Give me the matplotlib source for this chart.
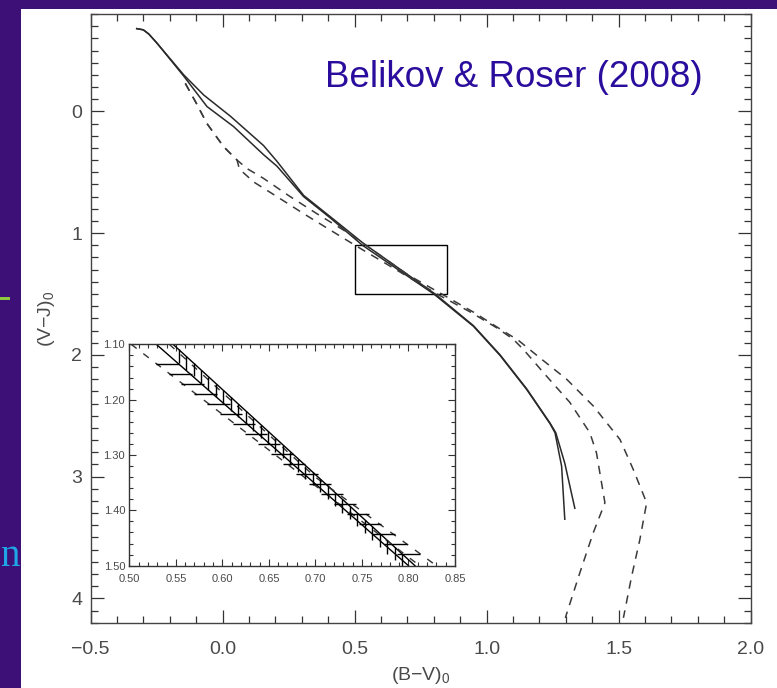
import matplotlib
matplotlib.use("Agg")
import matplotlib.pyplot as plt
from matplotlib.patches import Rectangle
from matplotlib.ticker import MultipleLocator, FuncFormatter

plt.rcParams["font.family"] = ["Liberation Sans", "DejaVu Sans"]
plt.rcParams["mathtext.fontset"] = "custom"
plt.rcParams["mathtext.rm"] = "Liberation Sans"
plt.rcParams["mathtext.it"] = "Liberation Sans"

# ── main panel: (B-V)0 vs (V-J)0 sequences ─────────────────────────────
solid_a_bv = [-0.325, -0.300, -0.279, -0.248, -0.147, -0.071, 0.030, 0.155, 0.206,
              0.307, 0.408, 0.534, 0.805, 0.950, 1.051, 1.152, 1.240, 1.262, 1.296, 1.334]
solid_a_vj = [-0.68, -0.67, -0.635, -0.56, -0.30, -0.134, 0.040, 0.280, 0.41,
              0.690, 0.865, 1.085, 1.500, 1.760, 2.000, 2.280, 2.560, 2.640, 2.890, 3.260]

solid_b_bv = [-0.325, -0.300, -0.279, -0.248, -0.147, -0.059, 0.042, 0.155, 0.206,
              0.307, 0.408, 0.530, 0.800, 0.950, 1.051, 1.152, 1.240, 1.259, 1.284, 1.296]
solid_b_vj = [-0.68, -0.67, -0.635, -0.56, -0.29, -0.040, 0.125, 0.355, 0.45,
              0.700, 0.875, 1.100, 1.500, 1.765, 2.005, 2.285, 2.565, 2.640, 2.915, 3.350]

dash_c_bv = [-0.141, -0.100, -0.059, 0.004, 0.055, 0.093, 0.155, 0.256, 0.357, 0.458,
             0.543, 0.700, 0.830, 0.955, 1.060, 1.120, 1.202, 1.303, 1.404, 1.505,
             1.555, 1.606, 1.580, 1.549, 1.518]
dash_c_vj = [-0.23, -0.07, 0.10, 0.29, 0.40, 0.47, 0.55, 0.70, 0.84, 0.975,
             1.10, 1.34, 1.50, 1.655, 1.80, 1.88, 2.025, 2.20, 2.42, 2.695,
             2.94, 3.215, 3.52, 3.82, 4.16]

dash_d_bv = [-0.141, -0.100, -0.059, 0.004, 0.055, 0.061, 0.067, 0.118, 0.206, 0.307,
             0.408, 0.502, 0.812, 0.940, 1.040, 1.100, 1.139, 1.227, 1.315, 1.391,
             1.416, 1.448, 1.404, 1.353, 1.298]
dash_d_vj = [-0.23, -0.07, 0.10, 0.29, 0.40, 0.45, 0.48, 0.58, 0.70, 0.84,
             0.975, 1.10, 1.50, 1.65, 1.78, 1.87, 1.955, 2.175, 2.39, 2.64,
             2.805, 3.215, 3.46, 3.79, 4.16]

zoom_box = (0.50, 1.10, 0.35, 0.40)   # x0, y0, width, height

# ── inset: zoom on the box ─────────────────────────────────────────────
in_s1_bv = [0.547, 0.807]
in_s1_vj = [1.10, 1.50]
in_s2_bv = [0.529, 0.800]
in_s2_vj = [1.10, 1.50]
in_c_bv = [0.543, 0.700, 0.830]
in_c_vj = [1.10, 1.34, 1.50]
in_d_bv = [0.502, 0.812]
in_d_vj = [1.10, 1.50]

vbar_bv = [0.553, 0.561, 0.569, 0.577, 0.585, 0.593, 0.601, 0.609, 0.617, 0.625,
           0.633, 0.641, 0.649, 0.657, 0.665, 0.673, 0.681, 0.689, 0.697, 0.705,
           0.713, 0.721, 0.729, 0.737, 0.745, 0.753, 0.761, 0.769, 0.777, 0.785, 0.793]
vbar_top = [1.109, 1.122, 1.134, 1.146, 1.159, 1.171, 1.183, 1.196, 1.208, 1.220,
            1.233, 1.245, 1.257, 1.270, 1.282, 1.294, 1.307, 1.319, 1.331, 1.343,
            1.355, 1.368, 1.380, 1.392, 1.405, 1.417, 1.429, 1.442, 1.454, 1.466, 1.478]
vbar_bot = [1.133, 1.146, 1.158, 1.170, 1.183, 1.195, 1.207, 1.220, 1.232, 1.244,
            1.257, 1.269, 1.281, 1.294, 1.306, 1.318, 1.331, 1.343, 1.355, 1.367,
            1.379, 1.392, 1.404, 1.416, 1.429, 1.441, 1.453, 1.466, 1.478, 1.490, 1.500]

hbar_vj = [1.136, 1.154, 1.172, 1.190, 1.208, 1.226, 1.244, 1.262, 1.280, 1.298,
           1.316, 1.334, 1.352, 1.370, 1.388, 1.406, 1.424, 1.442, 1.460, 1.478]
hbar_lo = [0.529, 0.543, 0.556, 0.570, 0.584, 0.597, 0.611, 0.624, 0.638, 0.652,
           0.665, 0.679, 0.693, 0.706, 0.720, 0.734, 0.747, 0.761, 0.774, 0.788]
hbar_hi = [0.553, 0.567, 0.580, 0.594, 0.608, 0.621, 0.635, 0.648, 0.662, 0.676,
           0.689, 0.703, 0.717, 0.730, 0.744, 0.758, 0.771, 0.785, 0.798, 0.812]


def minus_fmt(fmt):
    return FuncFormatter(lambda v, pos: (fmt % v).replace("-", "\u2212"))


W, H = 777, 688
fig = plt.figure(figsize=(W / 100, H / 100), dpi=100, facecolor="#3d1078")

# white slide panel + slide leftovers on the purple edge
fig.patches.append(Rectangle((21 / W, 0), 1 - 21 / W, 1 - 9 / H,
                             transform=fig.transFigure, facecolor="white",
                             edgecolor="none", zorder=-5))
fig.patches.append(Rectangle((0, 1 - 299.5 / H), 10 / W, 3 / H,
                             transform=fig.transFigure, facecolor="#8dc63f",
                             edgecolor="none", zorder=-5))
fig.text(0.5 / W, 1 - 566 / H, "n", ha="left", va="baseline", fontsize=28,
         family="Liberation Serif", color="#1ea6e6")

grey = "#4a4a4a"
ax = fig.add_axes([90.5 / W, 1 - 622.7 / H, 660.2 / W, 608.7 / H], zorder=1)
ax.set_facecolor("none")
ax.plot(solid_a_bv, solid_a_vj, color="#2a2a2a", lw=1.1)
ax.plot(solid_b_bv, solid_b_vj, color="#2a2a2a", lw=1.1)
ax.plot(dash_c_bv, dash_c_vj, color="#3a3a3a", lw=1.1, dashes=(5.5, 4.5))
ax.plot(dash_d_bv, dash_d_vj, color="#3a3a3a", lw=1.1, dashes=(5.5, 4.5))
bx, by, bw, bh = zoom_box
ax.add_patch(Rectangle((bx, by), bw, bh, fill=False, edgecolor="black", lw=1.0))

ax.set_xlim(-0.5, 2.0)
ax.set_ylim(4.2, -0.8)
ax.xaxis.set_major_locator(MultipleLocator(0.5))
ax.xaxis.set_minor_locator(MultipleLocator(0.1))
ax.yaxis.set_major_locator(MultipleLocator(1))
ax.yaxis.set_minor_locator(MultipleLocator(0.1))
ax.xaxis.set_major_formatter(minus_fmt("%.1f"))
ax.yaxis.set_major_formatter(minus_fmt("%d"))
ax.tick_params(which="both", direction="in", top=True, right=True,
               color="#333333", width=0.9, labelcolor=grey, labelsize=14)
ax.tick_params(axis="x", which="major", length=9.5, pad=13)
ax.tick_params(axis="y", which="major", length=9.5, pad=6)
ax.tick_params(which="minor", length=4.8)
for s in ax.spines.values():
    s.set_color("#444444")
    s.set_linewidth(1.0)
ax.set_xlabel("(B\u2212V)$_0$", fontsize=14, color=grey, labelpad=5)
ax.set_ylabel("(V\u2212J)$_0$", fontsize=14, color=grey, labelpad=10)

ax.text(325, H - 87, "Belikov & Roser (2008)", transform=None, fontsize=26.5,
        color="#2b0d9e", ha="left", va="baseline")

# inset
ins = fig.add_axes([129.3 / W, 1 - 565.7 / H, 325.7 / W, 221.4 / H], zorder=2)
ins.plot(in_s1_bv, in_s1_vj, color="black", lw=1.0)
ins.plot(in_s2_bv, in_s2_vj, color="black", lw=1.0)
ins.plot(in_c_bv, in_c_vj, color="#333333", lw=1.0, dashes=(5, 6))
ins.plot(in_d_bv, in_d_vj, color="#333333", lw=1.0, dashes=(5, 6))
ins.vlines(vbar_bv, vbar_top, vbar_bot, color="black", lw=1.0)
ins.hlines(hbar_vj, hbar_lo, hbar_hi, color="black", lw=1.0)
ins.set_xlim(0.50, 0.85)
ins.set_ylim(1.50, 1.10)
ins.xaxis.set_major_locator(MultipleLocator(0.05))
ins.xaxis.set_minor_locator(MultipleLocator(0.01))
ins.yaxis.set_major_locator(MultipleLocator(0.10))
ins.yaxis.set_minor_locator(MultipleLocator(0.02))
ins.xaxis.set_major_formatter(minus_fmt("%.2f"))
ins.yaxis.set_major_formatter(minus_fmt("%.2f"))
ins.tick_params(which="both", direction="in", top=True, right=True,
                color="#333333", width=0.8, labelcolor=grey, labelsize=8)
ins.tick_params(which="major", length=5)
ins.tick_params(which="minor", length=2.8)
ins.tick_params(axis="x", pad=6)
ins.tick_params(axis="y", pad=3)
for s in ins.spines.values():
    s.set_color("#333333")
    s.set_linewidth(1.0)

fig.savefig("out.png", dpi=100, facecolor=fig.get_facecolor())
